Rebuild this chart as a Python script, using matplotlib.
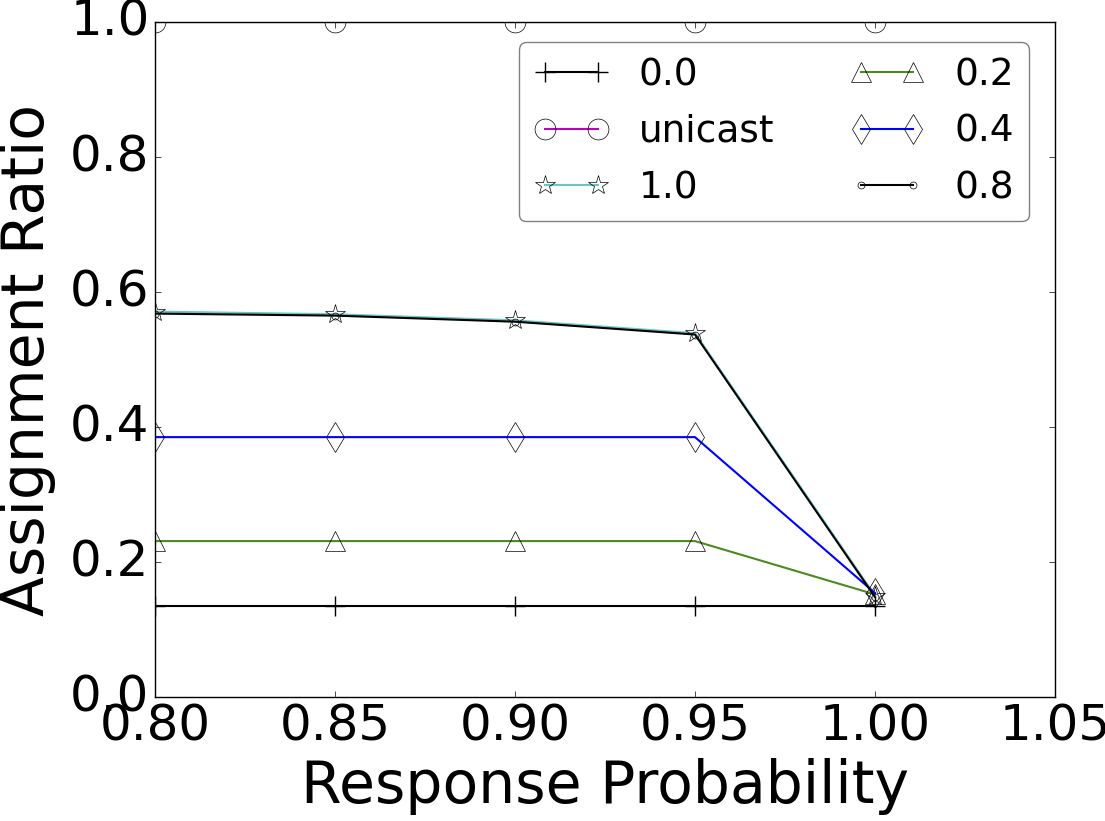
import matplotlib
matplotlib.use("Agg")
import matplotlib.pyplot as plt

plt.style.use("classic")

# response probability on x
x = [0.80, 0.85, 0.90, 0.95, 1.00]

# assignment ratio per series
r_00 = [0.135, 0.135, 0.135, 0.135, 0.135]
r_unicast = [1.0, 1.0, 1.0, 1.0, 1.0]
r_10 = [0.571, 0.567, 0.558, 0.539, 0.150]
r_02 = [0.231, 0.231, 0.231, 0.231, 0.152]
r_04 = [0.385, 0.385, 0.385, 0.385, 0.154]
r_08 = [0.568, 0.565, 0.556, 0.537, 0.148]

fig = plt.figure(figsize=(11.05, 8.21), dpi=100)
fig.patch.set_facecolor("white")
ax = fig.add_axes([155/1105, 1 - 697/821, 900/1105, 675/821])

lw = 1.5
ms = 15
ax.plot(x, r_00, color="k", marker="+", ms=ms, mew=1, lw=lw, label="0.0")
ax.plot(x, r_unicast, color="m", marker="o", ms=ms, mfc="none", mec="k", lw=lw, label="unicast")
ax.plot(x, r_10, color="#6cc4c4", marker="*", ms=ms, mfc="none", mec="k", lw=lw, label="1.0")
ax.plot(x, r_02, color="#4b8a1f", marker="^", ms=ms, mfc="none", mec="k", lw=lw, label="0.2")
ax.plot(x, r_04, color="b", marker="d", ms=ms, mfc="none", mec="k", lw=lw, label="0.4")
ax.plot(x, r_08, color="k", marker="o", ms=5, mfc="none", mec="k", lw=lw, label="0.8")

ax.set_xlim(0.80, 1.05)
ax.set_ylim(0.0, 1.0)
ax.set_xticks([0.80, 0.85, 0.90, 0.95, 1.00, 1.05])
ax.set_yticks([0.0, 0.2, 0.4, 0.6, 0.8, 1.0])
ax.tick_params(labelsize=36)
ax.set_xlabel("Response Probability", fontsize=42)
ax.set_ylabel("Assignment Ratio", fontsize=42, labelpad=10)

leg = ax.legend(loc="upper right", bbox_to_anchor=(0.971, 0.970), borderaxespad=0,
                ncol=2, numpoints=2, fontsize=27, fancybox=True,
                labelspacing=0.55, handletextpad=0.8)
leg.get_frame().set_edgecolor("0.5")

fig.savefig("out.png", dpi=100, facecolor="white")
